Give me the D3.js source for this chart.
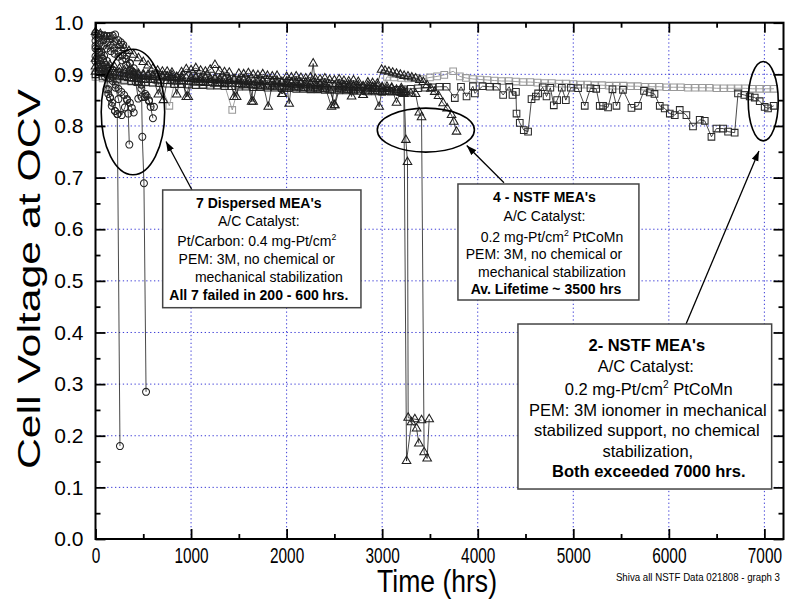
<!DOCTYPE html>
<html>
<head>
<meta charset="utf-8">
<script src="https://cdn.jsdelivr.net/npm/d3@7"></script>
<style>
  html, body { margin: 0; padding: 0; background: #fff; }
  svg { display: block; font-family: "Liberation Sans", Arial, Helvetica, sans-serif; }
</style>
</head>
<body>
<svg id="chart" width="791" height="605"></svg>
<script>
// ---------------------------------------------------------------
// OCV durability data: each point is [hours, cell voltage at OCV]
// ---------------------------------------------------------------

// 7 dispersed Pt/Carbon MEAs (circles)
const dispersedA = [[0,.950],[20,.947],[40,.943],[60,.938],[80,.930],[100,.918],[117,.900],[134,.871],[152,.855],[170,.839],[204,.829],[228,.823],[256,.180]];
const dispersedB = [[0,.980],[30,.978],[60,.976],[90,.975],[120,.974],[150,.974],[180,.975],[205,.977],[238,.966],[265,.962],[291,.957],[326,.937],[361,.921],[390,.905],[420,.885],[448,.853],[483,.856],[490,.779],[507,.689],[529,.285]];
const dispersedC = [[0,.955],[30,.950],[60,.944],[90,.936],[120,.926],[150,.912],[180,.895],[210,.874],[240,.852],[274,.821],[308,.836],[330,.850],[343,.824],[354,.764]];
const dispersedD = [[0,.965],[40,.960],[80,.955],[120,.950],[160,.945],[200,.940],[240,.934],[280,.927],[320,.918],[360,.908],[400,.898],[440,.886],[480,.872],[518,.856],[535,.858],[560,.848],[577,.837],[612,.837]];
const dispersedE = [[0,.975],[40,.970],[80,.966],[120,.961],[160,.956],[200,.950],[240,.944],[280,.937],[320,.930],[360,.922],[400,.912],[440,.898],[480,.880],[520,.862],[560,.850],[601,.815]];
const dispersedF = [[0,.935],[25,.928],[50,.920],[75,.910],[100,.895],[117,.871],[134,.862],[152,.855],[175,.845],[204,.829],[232,.823]];
const dispersedG = [[0,.925],[30,.918],[60,.912],[90,.905],[120,.899],[150,.893],[180,.887],[210,.880],[240,.872],[270,.866],[300,.860],[330,.852],[360,.845],[380,.835],[400,.826]];

// 4 NSTF PtCoMn MEAs, unsupported 3M PEM (triangles)
const nstfA = [[0,.982],[50,.978],[100,.973],[150,.968],[200,.963],[250,.957],[300,.951],[350,.945],[400,.938],[450,.931],[500,.924],[550,.917],[600,.911],[650,.907],[700,.905],[750,.905],[800,.903],[850,.861],[900,.904],[950,.910],[1000,.908],[1050,.912],[1100,.907],[1150,.905],[1200,.909],[1250,.918],[1300,.906],[1350,.904],[1400,.903],[1450,.856],[1500,.901],[1550,.900],[1600,.902],[1650,.899],[1700,.898],[1750,.900],[1800,.897],[1850,.896],[1900,.897],[1950,.862],[2000,.895],[2050,.894],[2100,.896],[2150,.893],[2200,.892],[2250,.894],[2300,.891],[2350,.890],[2400,.892],[2450,.889],[2500,.888],[2550,.890],[2600,.887],[2650,.886],[2700,.888],[2750,.885],[2800,.860],[2850,.884],[2900,.883],[2950,.882],[2994,.909],[3030,.907],[3070,.905],[3110,.903],[3150,.901],[3190,.899],[3230,.897],[3270,.896],[3310,.894],[3350,.892],[3394,.889],[3430,.885],[3470,.879],[3510,.872],[3550,.866],[3590,.858],[3638,.844],[3680,.834],[3726,.821],[3750,.808],[3778,.789]];
const nstfB = [[0,.930],[50,.926],[100,.922],[150,.918],[200,.914],[250,.911],[300,.908],[350,.905],[400,.903],[450,.901],[500,.900],[550,.899],[600,.898],[650,.899],[700,.897],[750,.896],[800,.898],[850,.895],[900,.896],[950,.856],[1000,.894],[1050,.895],[1100,.893],[1150,.894],[1200,.892],[1250,.893],[1300,.891],[1350,.892],[1400,.890],[1450,.891],[1500,.889],[1550,.890],[1600,.888],[1650,.847],[1700,.889],[1750,.887],[1800,.888],[1850,.886],[1900,.887],[1950,.885],[2000,.886],[2050,.884],[2100,.885],[2150,.883],[2200,.884],[2250,.882],[2278,.921],[2300,.883],[2350,.881],[2400,.882],[2450,.880],[2500,.840],[2550,.881],[2600,.879],[2650,.880],[2700,.878],[2750,.879],[2800,.877],[2850,.878],[2900,.876],[2950,.877],[3000,.875],[3050,.876],[3100,.874],[3150,.845],[3200,.873],[3227,.862],[3255,.151],[3307,.226],[3360,.214],[3384,.185]];
const nstfC = [[0,.915],[50,.912],[100,.910],[150,.907],[200,.905],[250,.903],[300,.902],[350,.900],[400,.899],[450,.898],[500,.897],[550,.896],[600,.895],[657,.861],[700,.894],[750,.895],[800,.893],[850,.894],[900,.892],[950,.893],[1000,.891],[1050,.892],[1100,.890],[1150,.891],[1200,.889],[1250,.890],[1300,.888],[1350,.889],[1400,.887],[1450,.888],[1500,.886],[1550,.887],[1600,.885],[1650,.886],[1700,.884],[1750,.885],[1808,.837],[1850,.884],[1900,.882],[1950,.883],[2000,.881],[2027,.843],[2050,.882],[2100,.880],[2150,.881],[2200,.879],[2250,.880],[2300,.878],[2350,.879],[2400,.877],[2470,.837],[2500,.877],[2550,.876],[2600,.877],[2650,.875],[2680,.857],[2700,.876],[2750,.874],[2800,.875],[2850,.873],[2900,.874],[2969,.837],[3000,.873],[3050,.871],[3100,.872],[3150,.870],[3200,.869],[3230,.866],[3248,.773],[3265,.730],[3272,.235],[3342,.232],[3412,.230]];
const nstfD = [[0,.905],[50,.903],[100,.901],[150,.899],[200,.898],[250,.896],[300,.895],[350,.893],[400,.892],[450,.891],[500,.890],[550,.889],[600,.890],[650,.888],[710,.850],[750,.887],[800,.888],[850,.886],[900,.887],[971,.856],[1000,.886],[1050,.884],[1100,.885],[1150,.883],[1200,.884],[1250,.882],[1300,.883],[1350,.881],[1400,.882],[1477,.856],[1500,.881],[1550,.879],[1600,.880],[1634,.847],[1650,.879],[1700,.877],[1750,.878],[1800,.876],[1850,.877],[1900,.875],[1958,.862],[2000,.876],[2050,.874],[2100,.875],[2150,.873],[2200,.874],[2250,.872],[2300,.873],[2350,.871],[2400,.872],[2450,.870],[2505,.840],[2550,.871],[2600,.869],[2650,.870],[2700,.868],[2750,.869],[2801,.860],[2850,.868],[2900,.867],[2950,.868],[3000,.866],[3050,.867],[3100,.865],[3150,.866],[3200,.864],[3250,.865],[3300,.863],[3350,.862],[3388,.826],[3412,.817],[3439,.168],[3471,.156],[3492,.232]];

// 2 NSTF PtCoMn MEAs, mechanically supported 3M PEM (squares)
const supportedA = [[0,.895],[75,.892],[150,.890],[225,.889],[300,.887],[375,.886],[450,.885],[525,.884],[600,.884],[675,.883],[773,.839],[825,.882],[900,.882],[975,.881],[1050,.880],[1125,.881],[1200,.880],[1275,.879],[1350,.880],[1431,.831],[1500,.879],[1575,.878],[1650,.879],[1725,.877],[1800,.878],[1875,.877],[1950,.876],[2025,.877],[2100,.876],[2175,.875],[2250,.876],[2325,.875],[2400,.874],[2475,.875],[2550,.874],[2625,.873],[2700,.874],[2775,.873],[2850,.872],[2925,.873],[3000,.872],[3050,.895],[3125,.894],[3200,.893],[3275,.892],[3350,.893],[3425,.891],[3500,.894],[3575,.896],[3650,.899],[3743,.906],[3813,.896],[3875,.893],[3950,.891],[4025,.890],[4100,.889],[4175,.888],[4250,.887],[4325,.887],[4400,.886],[4475,.885],[4550,.885],[4625,.884],[4700,.883],[4775,.883],[4850,.882],[4925,.882],[5000,.881],[5075,.880],[5150,.880],[5225,.879],[5300,.879],[5375,.878],[5450,.878],[5525,.878],[5600,.877],[5675,.877],[5750,.876],[5825,.876],[5900,.876],[5975,.875],[6050,.875],[6125,.875],[6200,.874],[6275,.874],[6350,.874],[6425,.874],[6500,.873],[6575,.873],[6650,.873],[6725,.873],[6800,.873],[6875,.872],[6950,.872],[7025,.872],[7100,.872]];
const supportedB = [[0,.900],[75,.896],[150,.893],[225,.891],[300,.889],[375,.887],[450,.886],[525,.885],[600,.884],[675,.883],[750,.882],[825,.881],[900,.881],[975,.880],[1050,.879],[1125,.879],[1200,.878],[1275,.878],[1350,.877],[1425,.877],[1500,.876],[1575,.876],[1650,.875],[1725,.875],[1800,.874],[1875,.874],[1950,.873],[2025,.873],[2100,.872],[2175,.872],[2250,.871],[2325,.871],[2400,.870],[2475,.870],[2550,.869],[2625,.869],[2700,.868],[2775,.868],[2850,.867],[2925,.867],[3000,.866],[3075,.868],[3150,.870],[3225,.871],[3300,.872],[3375,.873],[3450,.874],[3525,.875],[3600,.876],[3675,.876],[3760,.854],[3825,.876],[3883,.857],[3950,.877],[3970,.863],[4050,.877],[4125,.876],[4200,.876],[4266,.860],[4330,.876],[4364,.860],[4400,.866],[4406,.824],[4440,.806],[4482,.792],[4527,.789],[4563,.852],[4608,.857],[4632,.863],[4680,.875],[4720,.857],[4760,.874],[4796,.840],[4831,.850],[4880,.874],[4922,.850],[4975,.874],[5050,.873],[5120,.839],[5180,.873],[5240,.872],[5277,.839],[5312,.839],[5364,.836],[5410,.871],[5452,.839],[5520,.870],[5609,.835],[5678,.839],[5740,.868],[5800,.865],[5850,.862],[5905,.839],[5957,.834],[6010,.824],[6062,.821],[6114,.831],[6184,.821],[6253,.799],[6323,.812],[6376,.810],[6446,.779],[6498,.795],[6568,.795],[6620,.789],[6689,.787],[6724,.863],[6790,.860],[6846,.857],[6899,.855],[6951,.848],[7003,.837],[7038,.834],[7097,.839]];

// Axis ticks
const hourTicks  = [0, 1000, 2000, 3000, 4000, 5000, 6000, 7000];
const hourMinor  = [500, 1500, 2500, 3500, 4500, 5500, 6500];
const voltTicks  = [0.0, 0.1, 0.2, 0.3, 0.4, 0.5, 0.6, 0.7, 0.8, 0.9, 1.0];
const voltMinor  = [0.05, 0.15, 0.25, 0.35, 0.45, 0.55, 0.65, 0.75, 0.85, 0.95];

// Annotation texts
const dispersedNote = [
  { t: "7 Dispersed MEA's", bold: true },
  { t: "A/C Catalyst:" },
  { t: "Pt/Carbon: 0.4 mg-Pt/cm", sup: "2" },
  { t: "PEM: 3M, no chemical or" },
  { t: "mechanical stabilization" },
  { t: "All 7 failed in 200 - 600 hrs.", bold: true }
];
const nstfNote = [
  { t: "4 - NSTF MEA's", bold: true },
  { t: "A/C Catalyst:" },
  { t: "0.2 mg-Pt/cm", sup: "2", rest: " PtCoMn" },
  { t: "PEM: 3M, no chemical or" },
  { t: "mechanical stabilization" },
  { t: "Av. Lifetime ~ 3500 hrs", bold: true }
];
const supportedNote = [
  { t: "2- NSTF MEA's", bold: true },
  { t: "A/C Catalyst:" },
  { t: "0.2 mg-Pt/cm", sup: "2", rest: " PtCoMn" },
  { t: "PEM: 3M ionomer in mechanical" },
  { t: "stabilized support, no chemical" },
  { t: "stabilization," },
  { t: "Both exceeded 7000 hrs.", bold: true }
];

// ---------------------------------------------------------------
// Layout
// ---------------------------------------------------------------
const svg = d3.select("#chart");

const x = d3.scaleLinear().domain([0, 7200]).range([95.5, 783.5]);
const y = d3.scaleLinear().domain([0, 1]).range([539, 22.7]);
const [xL, xR] = x.range();
const [yB, yT] = y.range();

// Dotted blue grid at the major ticks
const grid = svg.append("g")
  .attr("stroke", "#3a3ad6")
  .attr("stroke-width", 1)
  .attr("stroke-dasharray", "1.3,2.6");
grid.selectAll("line.gv")
  .data(hourTicks.filter(h => h > 0))
  .join("line").attr("class", "gv")
  .attr("x1", d => x(d)).attr("x2", d => x(d))
  .attr("y1", yB).attr("y2", yT);
grid.selectAll("line.gh")
  .data(voltTicks.filter(v => v > 0 && v < 1))
  .join("line").attr("class", "gh")
  .attr("x1", xL).attr("x2", xR)
  .attr("y1", d => y(d)).attr("y2", d => y(d));

// ---------------------------------------------------------------
// Series
// ---------------------------------------------------------------
const line = d3.line().x(d => x(d[0])).y(d => y(d[1]));
const plot = svg.append("g");

function drawSeries(data, symbolType, size, color, lineColor) {
  const g = plot.append("g");
  g.append("path")
    .attr("d", line(data))
    .attr("fill", "none")
    .attr("stroke", lineColor)
    .attr("stroke-width", 0.8);
  g.selectAll("path.m")
    .data(data)
    .join("path").attr("class", "m")
    .attr("transform", d => `translate(${x(d[0])},${y(d[1])})`)
    .attr("d", d3.symbol().type(symbolType).size(size))
    .attr("fill", "none")
    .attr("stroke", color)
    .attr("stroke-width", 1.05);
}

drawSeries(supportedA, d3.symbolSquare, 44, "#999", "#888");
drawSeries(supportedB, d3.symbolSquare, 44, "#2a2a2a", "#1a1a1a");
[nstfA, nstfB, nstfC, nstfD].forEach(s => drawSeries(s, d3.symbolTriangle, 32, "#1e1e1e", "#1a1a1a"));
[dispersedA, dispersedB, dispersedC, dispersedD, dispersedE, dispersedF, dispersedG]
  .forEach(s => drawSeries(s, d3.symbolCircle, 38, "#222", "#1a1a1a"));

// ---------------------------------------------------------------
// Axes (ticks point inward on all four sides)
// ---------------------------------------------------------------
function styleAxis(g) {
  g.select(".domain").remove();
  g.selectAll(".tick line").attr("stroke", "#000").attr("stroke-width", 1.8);
}

// hour labels are set in a narrow face: plain Liberation Sans squeezed horizontally
svg.append("g").attr("transform", `translate(0,${yB})`)
  .call(d3.axisBottom(x).tickValues(hourTicks).tickSize(-10).tickPadding(8).tickFormat(d3.format("d")))
  .call(styleAxis)
  .call(g => g.selectAll("text")
    .attr("fill", "#000")
    .attr("font-size", 22)
    .attr("font-family", "Liberation Sans, Arial, sans-serif")
    .attr("transform", "scale(0.7,1)"));
svg.append("g").attr("transform", `translate(0,${yB})`)
  .call(d3.axisBottom(x).tickValues(hourMinor).tickSize(-5).tickFormat(""))
  .call(styleAxis);

svg.append("g").attr("transform", `translate(0,${yT})`)
  .call(d3.axisTop(x).tickValues(hourTicks).tickSize(-10).tickFormat(""))
  .call(styleAxis);
svg.append("g").attr("transform", `translate(0,${yT})`)
  .call(d3.axisTop(x).tickValues(hourMinor).tickSize(-5).tickFormat(""))
  .call(styleAxis);

svg.append("g").attr("transform", `translate(${xL},0)`)
  .call(d3.axisLeft(y).tickValues(voltTicks).tickSize(-10).tickPadding(12).tickFormat(d3.format(".1f")))
  .call(styleAxis)
  .call(g => g.selectAll("text")
    .attr("fill", "#000")
    .attr("font-size", 21)
    .attr("font-family", "Liberation Sans, Arial, sans-serif"));
svg.append("g").attr("transform", `translate(${xL},0)`)
  .call(d3.axisLeft(y).tickValues(voltMinor).tickSize(-5).tickFormat(""))
  .call(styleAxis);

svg.append("g").attr("transform", `translate(${xR},0)`)
  .call(d3.axisRight(y).tickValues(voltTicks).tickSize(-10).tickFormat(""))
  .call(styleAxis);
svg.append("g").attr("transform", `translate(${xR},0)`)
  .call(d3.axisRight(y).tickValues(voltMinor).tickSize(-5).tickFormat(""))
  .call(styleAxis);

// Plot frame
svg.append("rect")
  .attr("x", xL).attr("y", yT)
  .attr("width", xR - xL).attr("height", yB - yT)
  .attr("fill", "none").attr("stroke", "#000").attr("stroke-width", 2);

// Axis titles
svg.append("text")
  .attr("transform", "translate(40,279) rotate(-90)")
  .attr("text-anchor", "middle")
  .attr("font-size", 32)
  .attr("textLength", 380).attr("lengthAdjust", "spacingAndGlyphs")
  .text("Cell Voltage at OCV");

svg.append("text")
  .attr("x", 437).attr("y", 592)
  .attr("text-anchor", "middle")
  .attr("font-size", 31)
  .attr("textLength", 120).attr("lengthAdjust", "spacingAndGlyphs")
  .text("Time (hrs)");

svg.append("text")
  .attr("transform", "translate(780,581) scale(0.88,1)")
  .attr("text-anchor", "end")
  .attr("font-size", 11)
  .text("Shiva all NSTF Data 021808 - graph 3");

// ---------------------------------------------------------------
// Annotations: ellipses around failure regions, arrows, text boxes
// ---------------------------------------------------------------
const defs = svg.append("defs");
defs.append("marker")
  .attr("id", "head")
  .attr("markerUnits", "userSpaceOnUse")
  .attr("markerWidth", 11).attr("markerHeight", 8)
  .attr("refX", 10).attr("refY", 4)
  .attr("orient", "auto")
  .append("path").attr("d", "M0,0.5 L10,4 L0,7.5 Z").attr("fill", "#000");

const ann = svg.append("g");

// ellipses: centre [hours, volts], half-widths [hours, volts]
const rings = [
  { c: [392, 0.827], r: [332, 0.1216] },
  { c: [3457, 0.792], r: [508, 0.0426] },
  { c: [6988, 0.848], r: [157, 0.0769] }
];
ann.selectAll("ellipse")
  .data(rings)
  .join("ellipse")
  .attr("cx", d => x(d.c[0])).attr("cy", d => y(d.c[1]))
  .attr("rx", d => x(d.r[0]) - x(0)).attr("ry", d => y(0) - y(d.r[1]))
  .attr("fill", "none").attr("stroke", "#000").attr("stroke-width", 1.6);

// arrows: from box edge to ellipse, [hours, volts]
const pointers = [
  { from: [1010, 0.676], to: [738, 0.770] },
  { from: [4275, 0.690], to: [3885, 0.762] },
  { from: [6180, 0.4164], to: [6943, 0.7515] }
];
ann.selectAll("line.arrow")
  .data(pointers)
  .join("line").attr("class", "arrow")
  .attr("x1", d => x(d.from[0])).attr("y1", d => y(d.from[1]))
  .attr("x2", d => x(d.to[0])).attr("y2", d => y(d.to[1]))
  .attr("stroke", "#000").attr("stroke-width", 1.3)
  .attr("marker-end", "url(#head)");

function noteBox(lines, box) {
  const g = ann.append("g");
  const bx0 = x(box.h0), bx1 = x(box.h1), by0 = y(box.v0), by1 = y(box.v1);
  g.append("rect")
    .attr("x", bx0).attr("y", by0)
    .attr("width", bx1 - bx0).attr("height", by1 - by0)
    .attr("fill", "#fff").attr("stroke", "#444").attr("stroke-width", 1.5);
  const cx = (bx0 + bx1) / 2;
  lines.forEach((ln, i) => {
    const t = g.append("text")
      .attr("x", cx + box.dx[i]).attr("y", by0 + box.base[i])
      .attr("text-anchor", "middle")
      .attr("font-size", box.size)
      .attr("font-weight", ln.bold ? "bold" : "normal")
      .attr("fill", "#000");
    t.append("tspan").text(ln.t);
    if (ln.sup) {
      t.append("tspan").attr("font-size", box.size * 0.62).attr("dy", -box.size * 0.42).text(ln.sup);
      if (ln.rest) t.append("tspan").attr("dy", box.size * 0.42).text(ln.rest);
    }
  });
}

noteBox(dispersedNote, {
  h0: 703, h1: 2778, v0: 0.676, v1: 0.448, size: 14,
  base: [17.7, 36, 56, 74, 92, 110],
  dx: [-3, -3, -5, -5, 7, -3]
});
noteBox(nstfNote, {
  h0: 3793, h1: 5687, v0: 0.6876, v1: 0.4629, size: 14,
  base: [18, 37, 57.7, 75, 92.7, 110],
  dx: [-4, -4, 3.5, -4.5, 3.5, -2.5]
});
noteBox(supportedNote, {
  h0: 4421, h1: 7076, v0: 0.4164, v1: 0.0968, size: 16.5,
  base: [27, 48, 71, 92, 112, 132.7, 152.7],
  dx: [2, 1, 4, 3, 2, 3, 4]
});
</script>
</body>
</html>
